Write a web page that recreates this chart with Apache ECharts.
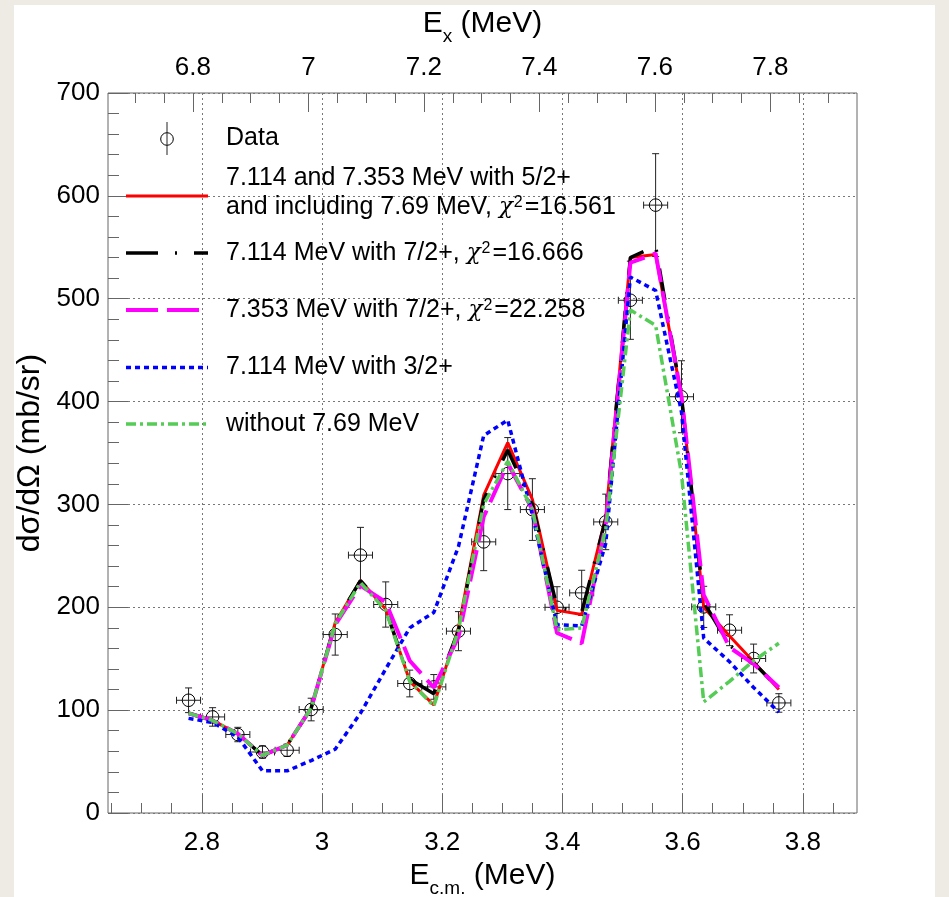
<!DOCTYPE html>
<html>
<head>
<meta charset="utf-8">
<script src="https://cdn.jsdelivr.net/npm/echarts@6/dist/echarts.min.js"></script>
<style>
  html, body { margin: 0; padding: 0; background: #eeebe4; }
  #chart { position: absolute; left: 14px; top: 5px; width: 921px; height: 892px; background: #fff; }
</style>
</head>
<body>
<div id="chart"></div>
<script>
// E_c.m. of the measured points (MeV)
const ecm = [2.778, 2.818, 2.860, 2.901, 2.942, 2.982, 3.022, 3.064, 3.106, 3.146, 3.186, 3.227, 3.269,
             3.309, 3.350, 3.391, 3.432, 3.472, 3.513, 3.555, 3.598, 3.635, 3.678, 3.718, 3.760]
const dataY = [109.6, 93.4, 76.3, 59.3, 61, 100.6, 173.5, 250.7, 202.7, 125.9, 122.6, 176.8, 263.6,
               330, 295, 200, 214, 283, 498.5, 591, 404.7, 200.4, 177.7, 150.2, 107]
const dataYErr = [12, 9, 7, 6, 6, 11, 20, 27, 22, 13, 12, 19, 28, 35, 30, 20, 22, 27, 38, 50, 35, 20, 15, 14, 9]
const dataXErr = [0.02, 0.02, 0.02, 0.02, 0.02, 0.02, 0.02, 0.02, 0.02, 0.02, 0.02, 0.02, 0.02,
                  0.02, 0.02, 0.02, 0.02, 0.02, 0.02, 0.02, 0.02, 0.02, 0.02, 0.02, 0.02]

// fits
const fitRed = [97, 90, 77, 56, 66, 102, 185, 226, 198, 128, 105, 180, 309, 360, 305, 197, 193, 288, 540, 543, 405, 200, 172, 147, 120]
const fitBlack = [97, 90, 77, 56, 66, 102, 185, 226, 198, 130, 116, 177, 305, 353, 300, 200, 195, 286, 540, 551, 405, 205, 163, 146, 121]
const fitPink = [97, 90, 77, 56, 66, 102, 183, 221, 205, 148, 122, 171, 288, 340, 295, 175, 165, 280, 535, 544, 405, 212, 161, 145, 122]
const fitBlue = [92, 88, 74, 41, 41, 51, 62, 97, 140, 180, 195, 259, 367, 382, 290, 183, 182, 262, 521, 508, 390, 170, 147, 122, 98]
const fitGreen = [97, 90, 77, 56, 66, 102, 184, 224, 197, 128, 104, 178, 300, 342, 295, 178, 180, 276, 489, 474, 330, 108, 128, 148, 165]

// axis ticks
const ecmMajor = [2.8, 3.0, 3.2, 3.4, 3.6, 3.8]
const ecmMinor = [2.65, 2.7, 2.75, 2.85, 2.9, 2.95, 3.05, 3.1, 3.15, 3.25, 3.3, 3.35,
                  3.45, 3.5, 3.55, 3.65, 3.7, 3.75, 3.85]
const exMajor = [6.8, 7.0, 7.2, 7.4, 7.6, 7.8]
const exMinor = [6.7, 6.75, 6.85, 6.9, 6.95, 7.05, 7.1, 7.15, 7.25, 7.3, 7.35,
                 7.45, 7.5, 7.55, 7.65, 7.7, 7.75, 7.85, 7.9]

const FONT = "Liberation Sans"
const fmt = (v) => String(Number(v.toFixed(2)))

const chart = echarts.init(document.getElementById("chart"))

const pairs = (ys) => ecm.map((x, i) => [x, ys[i]])
const points = ecm.map((x, i) => [x, dataY[i], dataXErr[i], dataYErr[i]])

const axisLineStyle = { color: "#666", width: 1 }

function tickAxis(pos, min, max, values, len, withLabel) {
    return {
        type: "value",
        position: pos,
        min: min,
        max: max,
        axisLine: { show: false },
        axisTick: { show: true, inside: true, length: len, lineStyle: axisLineStyle, customValues: values },
        axisLabel: withLabel ? {
            show: true, customValues: values, formatter: fmt,
            fontFamily: FONT, fontSize: 26, color: "#000",
            margin: pos === "bottom" ? 17 : 12,
        } : { show: false },
        splitLine: { show: false },
    }
}

const bottomMain = tickAxis("bottom", 2.644, 3.89, ecmMajor, 19, true)
bottomMain.splitLine = { show: true, lineStyle: { color: "#777", type: [2, 3], width: 1 } }
bottomMain.name = "{a|E}{s|c.m.}{a| (MeV)}"
bottomMain.nameLocation = "middle"
bottomMain.nameGap = 37
bottomMain.nameTextStyle = {
    rich: {
        a: { fontFamily: FONT, fontSize: 30, color: "#000", lineHeight: 34, verticalAlign: "bottom" },
        s: { fontFamily: FONT, fontSize: 19, color: "#000", lineHeight: 28, verticalAlign: "bottom", padding: [0, 0, -7, 0] },
    },
}

const topMain = tickAxis("top", 6.653, 7.950, exMajor, 19, true)
topMain.name = "{a|E}{s|x}{a| (MeV)}"
topMain.nameLocation = "middle"
topMain.nameGap = 54
topMain.nameTextStyle = bottomMain.nameTextStyle

const option = {
    animation: false,
    backgroundColor: "#fff",
    grid: {
        left: 94, right: 78, top: 88, bottom: 84,
        show: true, borderColor: "#666", borderWidth: 1,
        outerBoundsMode: "none",
    },
    xAxis: [
        bottomMain,
        tickAxis("bottom", 2.644, 3.89, ecmMinor, 10, false),
        topMain,
        tickAxis("top", 6.653, 7.950, exMinor, 10, false),
    ],
    yAxis: {
        type: "value",
        min: 0, max: 700, interval: 100,
        axisLine: { show: false },
        axisTick: { show: true, inside: true, length: 20, lineStyle: axisLineStyle },
        minorTick: { show: true, splitNumber: 5, length: 11, lineStyle: axisLineStyle },
        axisLabel: { fontFamily: FONT, fontSize: 26, color: "#000", margin: 8 },
        splitLine: { show: true, lineStyle: { color: "#777", type: [2, 3], width: 1 } },
        name: "dσ/dΩ (mb/sr)",
        nameLocation: "middle",
        nameGap: 58,
        nameTextStyle: { fontFamily: FONT, fontSize: 32, color: "#000" },
    },
    series: [
        {
            type: "custom",
            name: "Data",
            xAxisIndex: 0,
            data: points,
            encode: { x: 0, y: 1 },
            z: 1,
            renderItem: function (params, api) {
                const x = api.value(0), y = api.value(1), ex = api.value(2), ey = api.value(3)
                const c = api.coord([x, y])
                const l = api.coord([x - ex, y]), r = api.coord([x + ex, y])
                const t = api.coord([x, y + ey]), b = api.coord([x, y - ey])
                const cap = 3.5
                const st = { stroke: "#222", lineWidth: 1, fill: null }
                const seg = (x1, y1, x2, y2) => ({ type: "line", shape: { x1, y1, x2, y2 }, style: st })
                return {
                    type: "group",
                    children: [
                        seg(l[0], l[1], r[0], r[1]),
                        seg(t[0], t[1], b[0], b[1]),
                        seg(l[0], l[1] - cap, l[0], l[1] + cap),
                        seg(r[0], r[1] - cap, r[0], r[1] + cap),
                        seg(t[0] - cap, t[1], t[0] + cap, t[1]),
                        seg(b[0] - cap, b[1], b[0] + cap, b[1]),
                        { type: "circle", shape: { cx: c[0], cy: c[1], r: 6.3 }, style: { stroke: "#000", lineWidth: 1, fill: null } },
                    ],
                }
            },
        },
        { type: "line", name: "red", data: pairs(fitRed), showSymbol: false, z: 2,
          lineStyle: { color: "#ff0000", width: 3 } },
        { type: "line", name: "black", data: pairs(fitBlack), showSymbol: false, z: 3,
          lineStyle: { color: "#000", width: 3.5, type: [32, 17, 2, 17] } },
        { type: "line", name: "pink", data: pairs(fitPink), showSymbol: false, z: 4,
          lineStyle: { color: "#ff00ff", width: 4, type: [32, 9] } },
        { type: "line", name: "blue", data: pairs(fitBlue), showSymbol: false, z: 5,
          lineStyle: { color: "#0000ff", width: 3.5, type: [5, 4] } },
        { type: "line", name: "green", data: pairs(fitGreen), showSymbol: false, z: 6,
          lineStyle: { color: "#55cc55", width: 3.5, type: [10, 4, 3, 4] } },
    ],
}

// legend drawn by hand (ROOT style box without border)
const LX1 = 112, LX2 = 194, TX = 212
const txt = { fontFamily: FONT, fontSize: 25, fill: "#000", verticalAlign: "middle" }
const chiRich = {
    rich: {
        t: { fontFamily: FONT, fontSize: 25, color: "#000" },
        c: { fontFamily: "DejaVu Serif", fontSize: 23, fontStyle: "italic", color: "#000", padding: [0, 1, 0, 0] },
        p: { fontFamily: FONT, fontSize: 16, color: "#000", verticalAlign: "top", lineHeight: 22, padding: [0, 2, 0, 0] },
    },
}
function legendLine(y, ls) {
    return { type: "line", shape: { x1: LX1, y1: y, x2: LX2, y2: y }, style: Object.assign({ fill: null }, ls), z: 10 }
}
function legendText(y, text, rich) {
    return { type: "text", x: TX, y: y, style: Object.assign({ text: text }, txt, rich || {}), z: 10 }
}
option.graphic = [
    { type: "circle", shape: { cx: 153, cy: 134, r: 6.3 }, style: { stroke: "#000", lineWidth: 1, fill: null }, z: 10 },
    { type: "line", shape: { x1: 153, y1: 117, x2: 153, y2: 150 }, style: { stroke: "#222", lineWidth: 1 }, z: 10 },
    legendText(133, "Data"),
    legendLine(191, { stroke: "#ff0000", lineWidth: 3 }),
    legendText(173, "7.114 and 7.353 MeV with 5/2+"),
    legendText(202, "{t|and including 7.69 MeV, }{c|χ}{p|2}{t|=16.561}", chiRich),
    legendLine(248, { stroke: "#000", lineWidth: 3.5, lineDash: [32, 17, 2, 17] }),
    legendText(248, "{t|7.114 MeV with 7/2+, }{c|χ}{p|2}{t|=16.666}", chiRich),
    legendLine(305, { stroke: "#ff00ff", lineWidth: 4, lineDash: [32, 9] }),
    legendText(305, "{t|7.353 MeV with 7/2+, }{c|χ}{p|2}{t|=22.258}", chiRich),
    legendLine(362.5, { stroke: "#0000ff", lineWidth: 3.5, lineDash: [5, 4] }),
    legendText(362.5, "7.114 MeV with 3/2+"),
    legendLine(419, { stroke: "#55cc55", lineWidth: 3.5, lineDash: [10, 4, 3, 4] }),
    legendText(419, "without 7.69 MeV"),
]

chart.setOption(option)
</script>
</body>
</html>
